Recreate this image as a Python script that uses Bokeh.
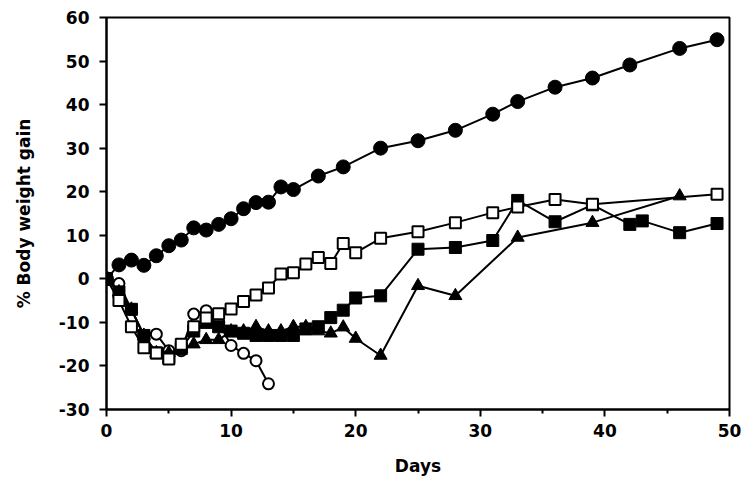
from bokeh.plotting import figure
from bokeh.models import Range1d, FixedTicker
from bokeh.embed import file_html
from bokeh.resources import INLINE

# Filled circles
fc_days = [0, 1, 2, 3, 4, 5, 6, 7, 8, 9, 10, 11, 12, 13, 14, 15, 17, 19, 22, 25, 28, 31, 33, 36, 39, 42, 46, 49]
fc_vals = [0, 3.2, 4.3, 3.1, 5.3, 7.6, 8.9, 11.7, 11.2, 12.5, 13.8, 16.1, 17.5, 17.6, 21.1, 20.5, 23.6, 25.7, 30.0, 31.7, 34.1, 37.8, 40.7, 44.0, 46.1, 49.1, 52.9, 54.9]

# Open squares
os_days = [0, 1, 2, 3, 4, 5, 6, 7, 8, 9, 10, 11, 12, 13, 14, 15, 16, 17, 18, 19, 20, 22, 25, 28, 31, 33, 36, 39, 49]
os_vals = [0, -5.0, -11.0, -15.8, -17.0, -18.4, -15.0, -11.0, -9.0, -8.0, -6.9, -5.2, -3.7, -2.1, 1.1, 1.4, 3.4, 4.9, 3.5, 8.1, 6.0, 9.3, 10.8, 12.9, 15.2, 16.5, 18.2, 17.1, 19.4]

# Filled squares
fs_days = [0, 1, 2, 3, 4, 5, 6, 7, 8, 9, 10, 11, 12, 13, 14, 15, 16, 17, 18, 19, 20, 22, 25, 28, 31, 33, 36, 39, 42, 43, 46, 49]
fs_vals = [0, -3.0, -7.0, -13.0, -17.0, -18.0, -16.0, -12.0, -10.0, -11.0, -12.0, -12.5, -13.0, -13.0, -13.0, -13.0, -11.5, -11.0, -8.9, -7.2, -4.4, -3.9, 6.8, 7.2, 8.8, 18.0, 13.1, 17.0, 12.5, 13.3, 10.6, 12.7]

# Filled triangles
tr_days = [0, 1, 2, 3, 4, 5, 6, 7, 8, 9, 10, 11, 12, 13, 14, 15, 16, 17, 18, 19, 20, 22, 25, 28, 33, 39, 46]
tr_vals = [0, -3.0, -7.0, -13.0, -17.0, -17.0, -16.0, -15.0, -14.0, -14.0, -12.0, -12.0, -11.0, -12.0, -12.0, -11.0, -11.0, -12.0, -12.5, -11.1, -13.7, -17.6, -1.6, -3.9, 9.5, 12.9, 19.0]

# Open circles
oc_days = [0, 1, 2, 3, 4, 5, 6, 7, 8, 9, 10, 11, 12, 13]
oc_vals = [0, -1.1, -7.0, -13.0, -12.7, -16.5, -16.5, -8.1, -7.3, -10.0, -15.3, -17.1, -18.8, -24.1]

x_ticks = [0, 10, 20, 30, 40, 50]
x_minor = [5, 15, 25, 35, 45]
y_ticks = [-30, -20, -10, 0, 10, 20, 30, 40, 50, 60]
y_tick_labels = ["-30", "-20", "-10", "0", "10", "20", "30", "40", "50", "60"]

p = figure(width=744, height=478, output_backend="svg", toolbar_location=None,
           x_range=Range1d(0, 50), y_range=Range1d(-30, 60),
           min_border_left=106, min_border_right=15, min_border_top=17, min_border_bottom=68)
p.xgrid.visible = False
p.ygrid.visible = False
p.outline_line_color = "black"
p.outline_line_width = 2
p.background_fill_color = "white"
p.border_fill_color = "white"

FONT = "DejaVu Sans"
p.xaxis.ticker = FixedTicker(ticks=x_ticks, minor_ticks=x_minor)
p.yaxis.ticker = FixedTicker(ticks=y_ticks)
p.yaxis.major_label_overrides = {t: s for t, s in zip(y_ticks, y_tick_labels)}
for ax in (p.xaxis[0], p.yaxis[0]):
    ax.axis_line_width = 2
    ax.axis_line_color = "black"
    ax.major_tick_line_width = 2
    ax.major_tick_line_color = "black"
    ax.major_tick_in = 0
    ax.major_tick_out = 7
    ax.major_label_text_font = FONT
    ax.major_label_text_font_style = "bold"
    ax.major_label_text_font_size = "17px"
    ax.major_label_text_color = "black"
    ax.axis_label_text_font = FONT
    ax.axis_label_text_font_style = "bold"
    ax.axis_label_text_font_size = "17px"
    ax.axis_label_text_color = "black"
p.xaxis.minor_tick_line_width = 2
p.xaxis.minor_tick_line_color = "black"
p.xaxis.minor_tick_in = 0
p.xaxis.minor_tick_out = 4
p.yaxis.minor_tick_line_color = None
p.xaxis.major_label_standoff = 7
p.yaxis.major_label_standoff = 10
p.xaxis.axis_label = "Days"
p.yaxis.axis_label = "% Body weight gain"
p.xaxis.axis_label_standoff = 16
p.yaxis.axis_label_standoff = 22

LW = 2
# open circles
p.line(oc_days, oc_vals, line_color="black", line_width=LW)
p.scatter(oc_days, oc_vals, marker="circle", size=11, fill_color="white", line_color="black", line_width=2)
# triangles
p.line(tr_days, tr_vals, line_color="black", line_width=LW)
p.scatter(tr_days, tr_vals, marker="triangle", size=13, fill_color="black", line_color="black")
# filled squares
p.line(fs_days, fs_vals, line_color="black", line_width=LW)
p.scatter(fs_days, fs_vals, marker="square", size=12, fill_color="black", line_color="black")
# open squares
p.line(os_days, os_vals, line_color="black", line_width=LW)
p.scatter(os_days, os_vals, marker="square", size=11, fill_color="white", line_color="black", line_width=2)
# filled circles
p.line(fc_days, fc_vals, line_color="black", line_width=LW)
p.scatter(fc_days, fc_vals, marker="circle", size=14, fill_color="black", line_color="black")

open("out.html", "w").write(file_html(p, INLINE))
